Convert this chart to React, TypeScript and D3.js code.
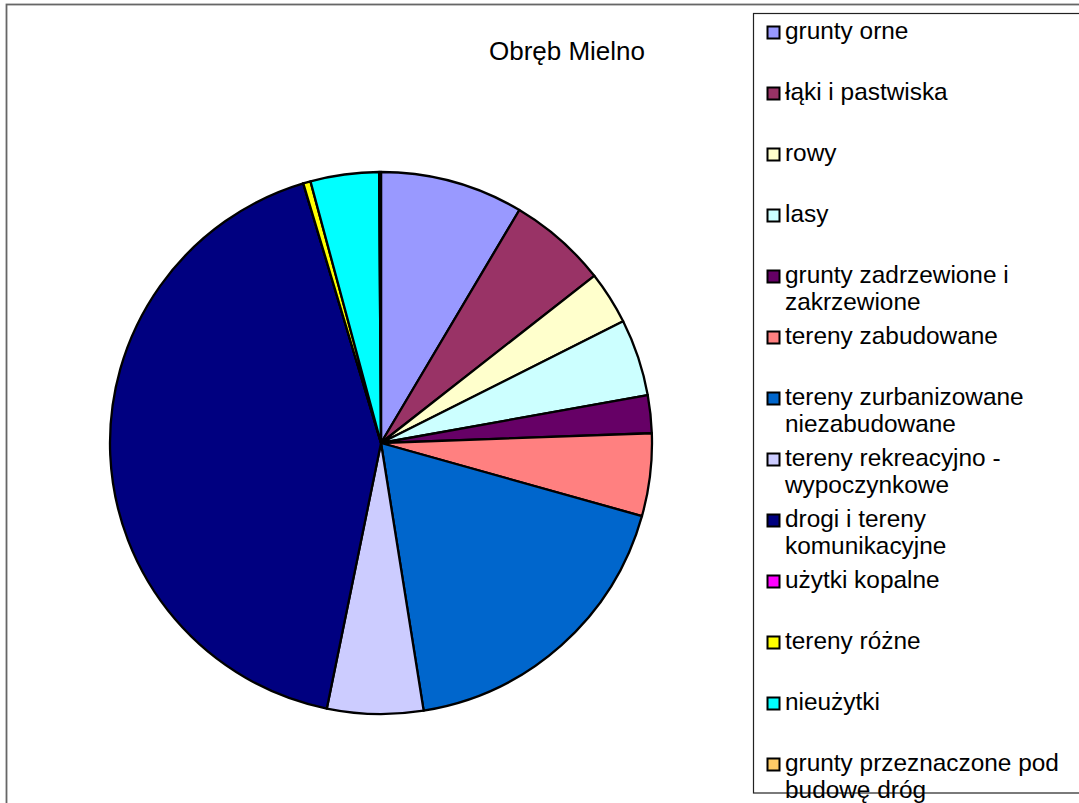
import React from "react";
import * as d3 from "d3";

const categories: string[][] = [
  ["grunty orne"],
  ["łąki i pastwiska"],
  ["rowy"],
  ["lasy"],
  ["grunty zadrzewione i", "zakrzewione"],
  ["tereny zabudowane"],
  ["tereny zurbanizowane", "niezabudowane"],
  ["tereny rekreacyjno -", "wypoczynkowe"],
  ["drogi i tereny", "komunikacyjne"],
  ["użytki kopalne"],
  ["tereny różne"],
  ["nieużytki"],
  ["grunty przeznaczone pod", "budowę dróg"],
];

const values: number[] = [8.53, 5.89, 3.17, 4.58, 2.26, 4.92, 18.14, 5.72, 42.17, 0, 0.44, 4.08, 0.11];

const colors: string[] = [
  "#9999FF", "#993366", "#FFFFCC", "#CCFFFF", "#660066", "#FF8080",
  "#0066CC", "#CCCCFF", "#000080", "#FF00FF", "#FFFF00", "#00FFFF", "#FFCC66",
];

const title = "Obręb Mielno";

export default function App() {
  const W = 1079, H = 803;
  const cx = 381, cy = 443, r = 271;
  const pie = d3.pie<number>().sort(null).value((d) => d)(values);
  const arc = d3.arc<d3.PieArcDatum<number>>().innerRadius(0).outerRadius(r);
  const font = "Arial, 'Liberation Sans', sans-serif";
  const legendY = d3.scaleLinear().domain([0, 12]).range([39, 771]);
  return (
    <svg width={W} height={H} style={{ position: "absolute", left: 0, top: 0, background: "#fff" }}>
      <rect x={6.5} y={4.5} width={W} height={H} fill="#fff" stroke="#666" strokeWidth={1.8} />
      <text x={567} y={60} textAnchor="middle" fontFamily={font} fontSize={26} fill="#000">{title}</text>
      <g transform={`translate(${cx},${cy})`}>
        {pie.map((p, i) => (
          <path key={i} d={arc(p) || ""} fill={colors[i]} stroke="#000" strokeWidth={2.3} strokeLinejoin="round" />
        ))}
      </g>
      <rect x={753.5} y={13.5} width={400} height={779.5} fill="none" stroke="#222" strokeWidth={1.2} />
      {categories.map((lines, i) => {
        const y = legendY(i);
        return (
          <g key={i}>
            <rect x={767.5} y={y - 12.5} width={12} height={12} fill={colors[i]} stroke="#000" strokeWidth={2} />
            <text fontFamily={font} fontSize={24.4} fill="#000">
              {lines.map((l, j) => (
                <tspan key={j} x={785} y={y + j * 27}>{l}</tspan>
              ))}
            </text>
          </g>
        );
      })}
    </svg>
  );
}
